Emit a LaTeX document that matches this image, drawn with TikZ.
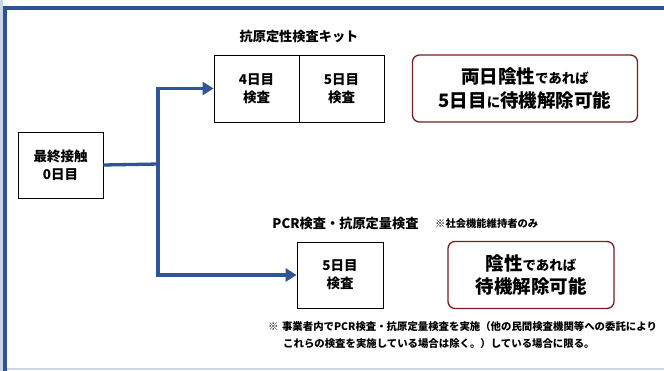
\documentclass[tikz,border=0pt]{standalone}
\usepackage{fontspec}
\setmainfont{Noto Sans CJK JP}
\usetikzlibrary{arrows.meta}
\definecolor{flowblue}{HTML}{2F5597}
\definecolor{framblue}{HTML}{2F5496}
\definecolor{lightfr}{HTML}{C9D6E8}
\definecolor{darkred}{HTML}{7A1E22}
\newcommand{\fsz}[2]{{\fontsize{#1}{#1}\selectfont #2}}
\tikzset{
  x=1pt, y=-1pt,
  box/.style={draw=black, line width=0.8pt, fill=white, inner sep=0pt, align=center,
    font=\bfseries\fontsize{13.5}{18}\selectfont},
  rbox/.style={draw=darkred, line width=1.3pt, rounded corners=7pt, inner sep=0pt, align=center,
    font=\bfseries\fontsize{18.5}{23.5}\selectfont},
  lbl/.style={inner sep=0pt, font=\bfseries\fontsize{13.2}{16}\selectfont},
  note/.style={inner sep=0pt, anchor=west, font=\bfseries\fontsize{10.4}{13}\selectfont},
  flow/.style={draw=flowblue, line width=3.3pt},
  flowarr/.style={flow, -{Triangle[length=11pt,width=13pt]}}
}
\begin{document}
\begin{tikzpicture}
\useasboundingbox (0,0) rectangle (664,371);
\fill[white] (0,0) rectangle (664,371);
% frame
\fill[lightfr] (0,0) rectangle (3,371);
\fill[lightfr] (0,367.5) rectangle (664,369.5);
\fill[framblue] (3.2,6) rectangle (664,10.2);
\fill[framblue] (3.2,6) rectangle (7.2,371);

% left box
\node[box, minimum width=85pt, minimum height=66pt] (a) at (60.5,165) {最終接触\\0日目};
\coordinate (j) at (158,164);

% top kit boxes
\node[box, minimum width=85pt, minimum height=67pt] (b4) at (256.5,88.5) {4日目\\検査};
\node[box, minimum width=85pt, minimum height=67pt] (b5) at (341.5,88.5) {5日目\\検査};
\node[lbl] (t1) at (299,37) {抗原定性検査キット};

% top result
\node[rbox, minimum width=225pt, minimum height=67pt] (r1) at (525,88.5)
  {両日陰性\fsz{13.5}{であれば}\\5日目\fsz{13.5}{に}待機解除可能};

% bottom
\node[box, minimum width=86pt, minimum height=66pt] (c) at (340,275) {5日目\\検査};
\node[lbl] (t2) at (345.5,224) {PCR検査・抗原定量検査};
\node[note, font=\bfseries\fontsize{10.3}{12}\selectfont] (t3) at (435,224) {※社会機能維持者のみ};
\node[rbox, minimum width=166pt, minimum height=67pt] (r2) at (531,275)
  {陰性\fsz{13.5}{であれば}\\待機解除可能};

% footnote
\node[note] (n1) at (268,327) {※\,\,事業者内でPCR検査・抗原定量検査を実施（他の民間検査機関等への委託により};
\node[note] (n2) at (283,344) {これらの検査を実施している場合は除く。）している場合に限る。};

% connectors
\draw[flow] (a.east) -- ([xshift=1.6pt]j);
\draw[flowarr, line join=miter] (j) |- (b4.west);
\draw[flowarr, line join=miter] (j) |- (c.west);
\end{tikzpicture}
\end{document}
